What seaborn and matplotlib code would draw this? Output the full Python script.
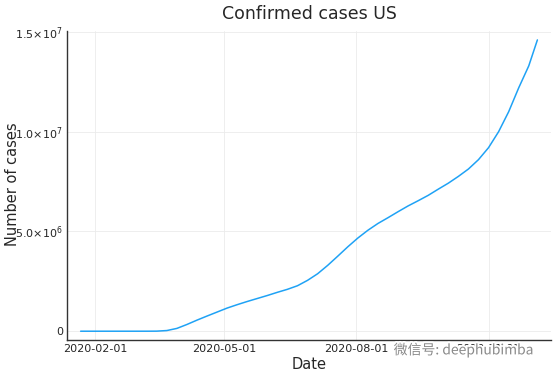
import matplotlib
matplotlib.use("Agg")
import matplotlib.pyplot as plt
import matplotlib.dates as mdates
import matplotlib.patheffects as pe
import seaborn as sns
import pandas as pd

# cumulative confirmed cases, US (roughly weekly)
dates = ["2020-01-22", "2020-02-01", "2020-02-15", "2020-03-01", "2020-03-08",
         "2020-03-15", "2020-03-22", "2020-03-29", "2020-04-05", "2020-04-12",
         "2020-04-19", "2020-04-26", "2020-05-03", "2020-05-10", "2020-05-17",
         "2020-05-24", "2020-05-31", "2020-06-07", "2020-06-14", "2020-06-21",
         "2020-06-28", "2020-07-05", "2020-07-12", "2020-07-19", "2020-07-26",
         "2020-08-02", "2020-08-09", "2020-08-16", "2020-08-23", "2020-08-30",
         "2020-09-06", "2020-09-13", "2020-09-20", "2020-09-27", "2020-10-04",
         "2020-10-11", "2020-10-18", "2020-10-25", "2020-11-01", "2020-11-08",
         "2020-11-15", "2020-11-22", "2020-11-29", "2020-12-05"]
cases = [1, 8, 15, 75, 540,
         3500, 33000, 140000, 337000, 555000,
         760000, 960000, 1160000, 1330000, 1490000,
         1640000, 1790000, 1950000, 2100000, 2280000,
         2550000, 2880000, 3300000, 3760000, 4230000,
         4670000, 5060000, 5400000, 5690000, 5990000,
         6280000, 6540000, 6810000, 7120000, 7420000,
         7760000, 8130000, 8600000, 9200000, 10000000,
         11000000, 12200000, 13300000, 14600000]

x_ticks = ["2020-02-01", "2020-05-01", "2020-08-01", "2020-11-01"]
y_ticks = [0, 5e6, 1e7, 1.5e7]
y_tick_labels = ["0", r"$5.0{\times}10^{6}$", r"$1.0{\times}10^{7}$", r"$1.5{\times}10^{7}$"]

df = pd.DataFrame({"Date": pd.to_datetime(dates), "cases": cases})

sns.set_style("white")
plt.rcParams["font.family"] = ["DejaVu Sans"]

fig = plt.figure(figsize=(5.6, 3.73), dpi=100)
ax = fig.add_axes([0.1196, 0.0885, 0.8644, 0.8275])

sns.lineplot(data=df, x="Date", y="cases", ax=ax, color="#1fa2f5", linewidth=1.1)

ax.set_xlim(pd.Timestamp("2020-01-12 12:00"), pd.Timestamp("2020-12-14 12:00"))
ax.set_ylim(-0.44e6, 1.503e7)

ax.set_xticks(pd.to_datetime(x_ticks))
ax.xaxis.set_major_formatter(mdates.DateFormatter("%Y-%m-%d"))
ax.set_yticks(y_ticks)
ax.set_yticklabels(y_tick_labels)

ax.tick_params(direction="in", length=4, width=0.8, color="#333333",
               labelsize=8, pad=3)
ax.grid(True, color="#ebebeb", linewidth=0.6)
for side in ["top", "right"]:
    ax.spines[side].set_visible(False)
for side in ["left", "bottom"]:
    ax.spines[side].set_color("#333333")
    ax.spines[side].set_linewidth(1.0)

ax.set_title("Confirmed cases US", fontsize=12.5, pad=9)
ax.set_xlabel("Date", fontsize=10.5, labelpad=2)
ax.set_ylabel("Number of cases", fontsize=10.5)
ax.yaxis.set_label_coords(-0.098, 0.505)

# watermark
fig.text(0.703, 0.062, "微信号: deephubimba", fontsize=10, color="#8a8a8a",
         family=["Noto Sans CJK SC", "DejaVu Sans"], va="center",
         path_effects=[pe.withStroke(linewidth=2.5, foreground="white")])

fig.savefig("out.png", dpi=100)
